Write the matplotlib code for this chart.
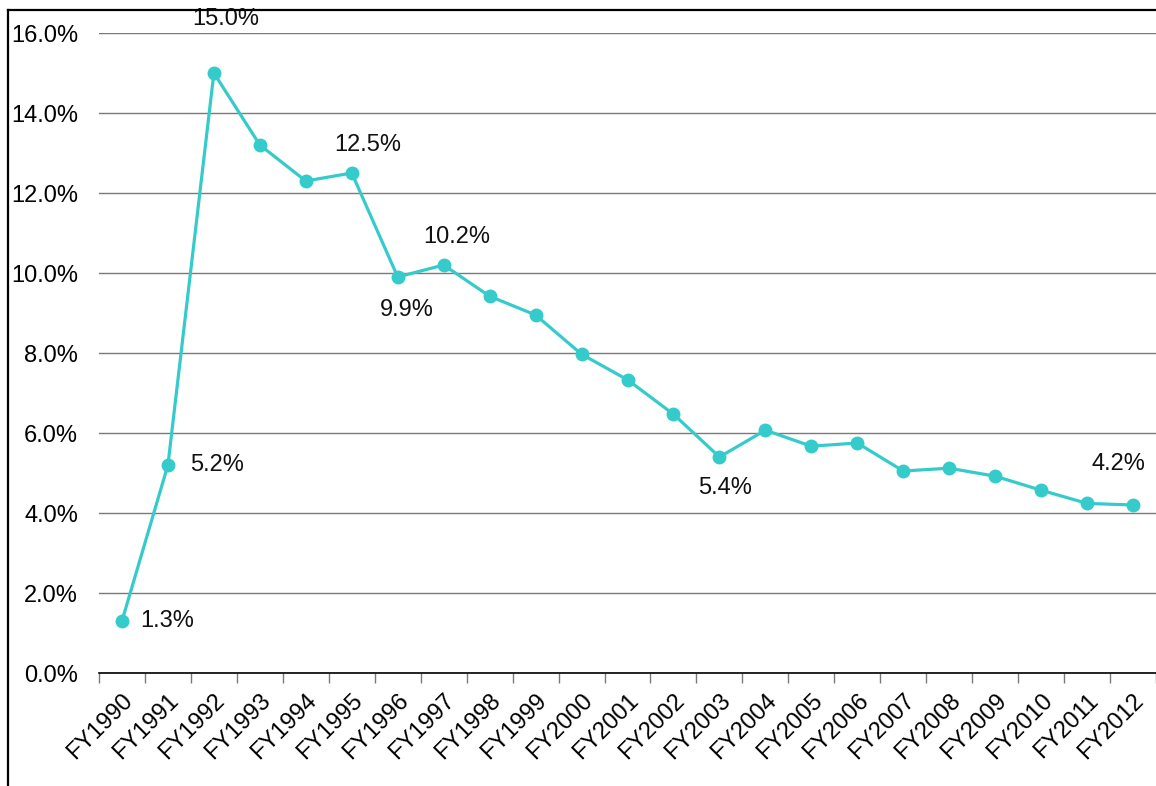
import matplotlib.pyplot as plt
from matplotlib.lines import Line2D
from matplotlib.ticker import FuncFormatter

years = ['FY1990', 'FY1991', 'FY1992', 'FY1993', 'FY1994', 'FY1995', 'FY1996',
         'FY1997', 'FY1998', 'FY1999', 'FY2000', 'FY2001', 'FY2002', 'FY2003',
         'FY2004', 'FY2005', 'FY2006', 'FY2007', 'FY2008', 'FY2009', 'FY2010',
         'FY2011', 'FY2012']
rates = [1.3, 5.2, 15.0, 13.2, 12.3, 12.5, 9.9, 10.2, 9.42, 8.95, 7.97, 7.33,
         6.47, 5.4, 6.07, 5.67, 5.75, 5.05, 5.12, 4.92, 4.57, 4.24, 4.2]

# which points get a label, and where the text sits (offset in pixels)
label_pos = {0: (18, 0, 'left'), 1: (22, 0, 'left'), 2: (12, -54, 'center'),
             5: (16, -28, 'center'), 6: (9, 33, 'center'), 7: (13, -28, 'center'),
             13: (6, 31, 'center'), 22: (-15, -41, 'center')}

plt.rcParams['font.family'] = ['Liberation Sans', 'DejaVu Sans']

fig = plt.figure(figsize=(11.56, 7.86), dpi=100)
ax = fig.add_axes([99 / 1156, 1 - 673 / 786, 1 - 99 / 1156, (673 - 33) / 786])

color = '#36CBCB'
x = list(range(len(years)))
ax.plot(x, rates, color=color, lw=2.3, marker='o', ms=9, zorder=3, clip_on=False)

px = 72 / 100
for i, (dx, dy, ha) in label_pos.items():
    ax.annotate(f'{rates[i]:.1f}%', (i, rates[i]), xytext=(dx * px, -dy * px),
                textcoords='offset points', ha=ha, va='center', fontsize=17,
                color='#111111')

ax.set_xlim(-0.5, len(years) - 0.5)
ax.set_ylim(0, 16)
ax.set_yticks([0, 2, 4, 6, 8, 10, 12, 14, 16])
ax.yaxis.set_major_formatter(FuncFormatter(lambda v, p: f'{v:.1f}%'))
ax.grid(axis='y', color='#7a7a7a', lw=1)
ax.set_axisbelow(True)

ax.set_xticks(x)
ax.set_xticklabels(years, rotation=45, ha='right', rotation_mode='anchor')
ax.set_xticks([i - 0.5 for i in range(len(years) + 1)], minor=True)
ax.tick_params(axis='x', which='major', length=0, pad=12, labelsize=17)
ax.tick_params(axis='x', which='minor', length=7, color='#7a7a7a', width=1)
ax.tick_params(axis='y', length=0, pad=15, labelsize=17)

for s in ['top', 'right', 'left']:
    ax.spines[s].set_visible(False)
ax.spines['bottom'].set_color('black')
ax.spines['bottom'].set_linewidth(1.2)

# outer frame (left and top edges visible)
fig.add_artist(Line2D([8 / 1156, 8 / 1156], [0, 1 - 10 / 786], color='black', lw=1.6))
fig.add_artist(Line2D([8 / 1156, 1], [1 - 10 / 786, 1 - 10 / 786], color='black', lw=1.6))

fig.savefig('out.png', dpi=100)
